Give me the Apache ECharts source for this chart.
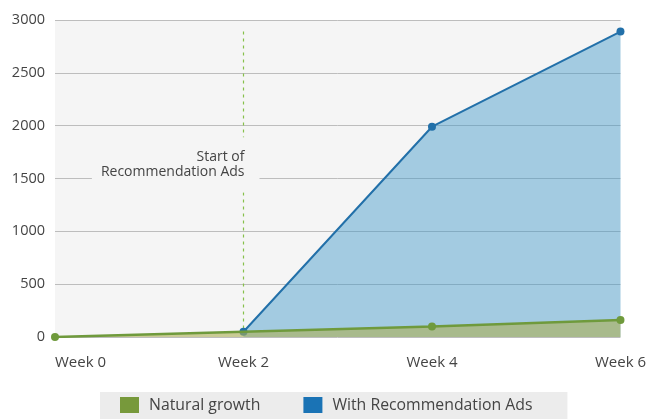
<!DOCTYPE html>
<html>
<head>
<meta charset="utf-8">
<script src="https://cdn.jsdelivr.net/npm/echarts@6/dist/echarts.min.js"></script>
<style>
  html, body { margin: 0; padding: 0; background: #ffffff; }
  #chart { width: 649px; height: 419px; }
</style>
</head>
<body>
<div id="chart"></div>
<script>
// Weekly totals for the two growth scenarios
const weeks = ['Week 0', 'Week 2', 'Week 4', 'Week 6'];
const naturalGrowth = [0, 50, 100, 160];
const withRecommendationAds = ['-', 50, 1990, 2890];
const seriesNames = ['Natural growth', 'With Recommendation Ads'];

// Annotation marking when the ads campaign began
const adsStartWeek = 'Week 2';
const adsStartText = 'Start of\nRecommendation Ads';

const FONT = '"Open Sans", sans-serif';
const GREEN = '#6f9a3c';
const BLUE = '#2270a9';
const PLOT_BG = '#f5f5f5';
const START_LINE = { color: '#86c04a', type: [3, 4], width: 1.2, opacity: 1 };

const chart = echarts.init(document.getElementById('chart'), null, { renderer: 'canvas' });

chart.setOption({
  animation: false,
  backgroundColor: '#ffffff',
  textStyle: { fontFamily: FONT },
  grid: {
    left: 55, right: 28, top: 20, bottom: 82,
    show: true, backgroundColor: PLOT_BG, borderWidth: 0
  },
  legend: {
    left: 100, top: 392,
    backgroundColor: '#ececec',
    padding: [5, 35, 10, 20],
    itemWidth: 19, itemHeight: 16, itemGap: 43,
    icon: 'rect',
    textStyle: { fontFamily: FONT, fontSize: 15.8, color: '#444', padding: [0, 0, 0, 5] },
    data: [
      { name: seriesNames[0], itemStyle: { color: '#77993b' } },
      { name: seriesNames[1], itemStyle: { color: '#1a73b5' } }
    ]
  },
  xAxis: {
    type: 'category',
    data: weeks,
    boundaryGap: false,
    axisLine: { show: false },
    axisTick: { show: false },
    splitLine: { show: false },
    axisLabel: {
      color: '#444', fontFamily: FONT, fontSize: 15, margin: 18,
      alignMinLabel: 'left', alignMaxLabel: 'center'
    }
  },
  yAxis: {
    type: 'value',
    min: 0, max: 3000, interval: 500,
    axisLine: { show: false },
    axisTick: { show: false },
    splitLine: { lineStyle: { color: '#bdbdbd', width: 1 } },
    axisLabel: {
      color: '#444', fontFamily: FONT, fontSize: 14.5, margin: 10,
      formatter: (v) => String(v)
    }
  },
  series: [
    {
      name: seriesNames[1],
      type: 'line',
      data: withRecommendationAds,
      color: BLUE,
      z: 2,
      symbol: 'circle', symbolSize: 8, showSymbol: true,
      lineStyle: { color: BLUE, width: 2 },
      itemStyle: { color: BLUE },
      areaStyle: { color: 'rgba(60,150,200,0.44)', opacity: 1 }
    },
    {
      name: seriesNames[0],
      type: 'line',
      data: naturalGrowth,
      color: GREEN,
      z: 3,
      symbol: 'circle', showSymbol: true,
      // where both scenarios share a point, only the ads marker is shown
      symbolSize: (val, params) =>
        withRecommendationAds[params.dataIndex] === naturalGrowth[params.dataIndex] ? 0 : 8,
      lineStyle: { color: GREEN, width: 2.5 },
      itemStyle: { color: GREEN },
      areaStyle: { color: 'rgba(171,175,84,0.6)', opacity: 1 },
      markLine: {
        silent: true,
        symbol: 'none',
        z: 1,
        lineStyle: START_LINE,
        emphasis: { disabled: true },
        label: { show: false },
        data: [[
          { coord: [adsStartWeek, withRecommendationAds[3]], lineStyle: START_LINE },
          { coord: [adsStartWeek, naturalGrowth[1]] }
        ]]
      },
      markPoint: {
        silent: true,
        symbol: 'circle',
        symbolSize: 0,
        z: 10,
        data: [{ coord: [adsStartWeek, 1630], value: 0 }],
        label: {
          show: true,
          position: 'left',
          distance: 0,
          offset: [16, 0],
          align: 'right',
          formatter: adsStartText,
          color: '#444',
          fontFamily: FONT,
          fontSize: 14,
          lineHeight: 15,
          backgroundColor: PLOT_BG,
          padding: [12, 15, 13, 9]
        }
      }
    }
  ]
});
</script>
</body>
</html>
